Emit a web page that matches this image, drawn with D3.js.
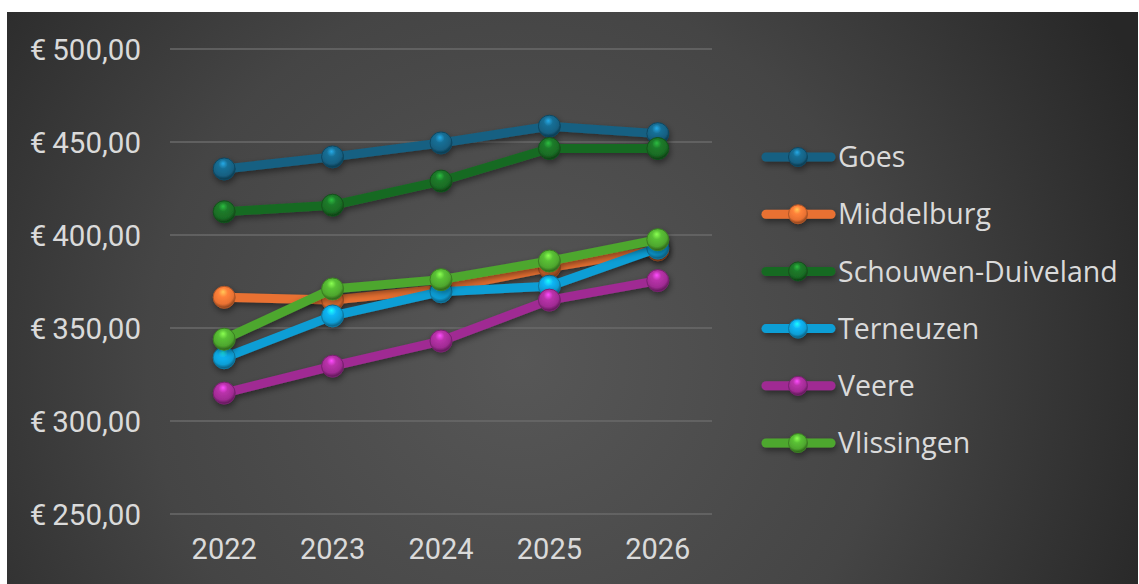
<!DOCTYPE html>
<html>
<head>
<meta charset="utf-8">
<script src="https://cdn.jsdelivr.net/npm/d3@7"></script>
<style>
  body { margin: 0; background: #ffffff; }
  svg { display: block; }
</style>
</head>
<body>
<div id="chart"></div>
<script>
// data
var years = ["2022", "2023", "2024", "2025", "2026"];
var seriesNames = ["Goes", "Middelburg", "Schouwen-Duiveland", "Terneuzen", "Veere", "Vlissingen"];
var goes = [435.5, 442, 449.5, 458.5, 454.5];
var middelburg = [366.5, 365, 371, 382.5, 392];
var schouwen = [412.5, 416, 429, 446.5, 446.5];
var terneuzen = [334, 356.5, 369.5, 372.5, 393];
var veere = [315, 329.5, 343, 365, 375.5];
var vlissingen = [344, 371, 376, 386, 397.5];
var colors = ["#156082", "#E97132", "#196B24", "#0F9ED5", "#A02B93", "#4EA72E"];
var yTicks = [250, 300, 350, 400, 450, 500];

var allValues = [goes, middelburg, schouwen, terneuzen, veere, vlissingen];

var W = 1139, H = 584;
var margin = {top: 49, left: 170, right: 427, bottom: 70};

var svg = d3.select("#chart").append("svg")
    .attr("width", W).attr("height", H);

var defs = svg.append("defs");

// background gradient
var bg = defs.append("radialGradient").attr("id", "bg")
    .attr("gradientUnits", "userSpaceOnUse")
    .attr("cx", 520).attr("cy", 360).attr("r", 680);
bg.append("stop").attr("offset", "0%").attr("stop-color", "#575757");
bg.append("stop").attr("offset", "55%").attr("stop-color", "#454545");
bg.append("stop").attr("offset", "100%").attr("stop-color", "#272727");

// soft shadow for lines and markers
var sh = defs.append("filter").attr("id", "shadow")
    .attr("x", "-20%").attr("y", "-20%").attr("width", "140%").attr("height", "160%");
sh.append("feDropShadow").attr("dx", 1).attr("dy", 3).attr("stdDeviation", 3)
    .attr("flood-color", "#000").attr("flood-opacity", 0.45);

// glossy ball gradients
colors.forEach(function(c, i) {
  var g = defs.append("radialGradient").attr("id", "ball" + i)
      .attr("cx", "45%").attr("cy", "35%").attr("r", "60%").attr("fx", "45%").attr("fy", "25%");
  g.append("stop").attr("offset", "0%").attr("stop-color", d3.color(c).brighter(1.6));
  g.append("stop").attr("offset", "35%").attr("stop-color", d3.color(c).brighter(0.4));
  g.append("stop").attr("offset", "80%").attr("stop-color", c);
  g.append("stop").attr("offset", "100%").attr("stop-color", d3.color(c).darker(1.2));
});

svg.append("rect").attr("x", 7).attr("y", 12).attr("width", W - 8).attr("height", H - 12)
    .attr("fill", "url(#bg)");

var x = d3.scaleBand().domain(years).range([margin.left, W - margin.right]);
var y = d3.scaleLinear().domain([250, 500]).range([514, 49]);

// gridlines
svg.append("g").selectAll("line").data(yTicks).enter().append("line")
    .attr("x1", margin.left).attr("x2", W - margin.right)
    .attr("y1", function(d) { return y(d); }).attr("y2", function(d) { return y(d); })
    .attr("stroke", "#6a6a6a").attr("stroke-width", 1.5);

var fmt = function(d) { return "€\u2009" + d3.format(".2f")(d).replace(".", ","); };

// y axis
var yAxis = svg.append("g").attr("transform", "translate(141,0)")
    .call(d3.axisLeft(y).tickValues(yTicks).tickSize(0).tickPadding(0).tickFormat(fmt));
yAxis.select(".domain").remove();
yAxis.selectAll("text").attr("fill", "#dadada").attr("dy", "0.34em")
    .style("font-family", "Roboto, sans-serif").style("font-size", "29.5px");

// x axis
var xAxis = svg.append("g").attr("transform", "translate(0,538)")
    .call(d3.axisBottom(x).tickSize(0).tickPadding(0));
xAxis.select(".domain").remove();
xAxis.selectAll("text").attr("fill", "#dadada").attr("dy", "0.71em")
    .style("font-family", "Roboto, sans-serif").style("font-size", "29px");

var line = d3.line()
    .x(function(d, i) { return x(years[i]) + x.bandwidth() / 2; })
    .y(function(d) { return y(d); });

var plot = svg.append("g");
allValues.forEach(function(vals, s) {
  var g = plot.append("g").attr("filter", "url(#shadow)");
  g.append("path").datum(vals).attr("d", line)
      .attr("fill", "none").attr("stroke", colors[s]).attr("stroke-width", 9)
      .attr("stroke-linejoin", "round");
  g.selectAll("circle").data(vals).enter().append("circle")
      .attr("cx", function(d, i) { return x(years[i]) + x.bandwidth() / 2; })
      .attr("cy", function(d) { return y(d); })
      .attr("r", 11)
      .attr("fill", "url(#ball" + s + ")")
      .attr("stroke", d3.color(colors[s]).darker(0.8)).attr("stroke-width", 1);
});

// legend
var legend = svg.append("g");
var ly = d3.scalePoint().domain(seriesNames).range([157, 443]);
seriesNames.forEach(function(name, s) {
  var g = legend.append("g").attr("transform", "translate(0," + ly(name) + ")")
      .attr("filter", "url(#shadow)");
  g.append("line").attr("x1", 766).attr("x2", 831).attr("y1", 0).attr("y2", 0)
      .attr("stroke", colors[s]).attr("stroke-width", 9).attr("stroke-linecap", "round");
  g.append("circle").attr("cx", 798).attr("cy", 0).attr("r", 9.5)
      .attr("fill", "url(#ball" + s + ")")
      .attr("stroke", d3.color(colors[s]).darker(0.8)).attr("stroke-width", 1);
  legend.append("text").attr("x", 838).attr("y", ly(name)).attr("dy", "0.36em")
      .attr("fill", "#dadada")
      .style("font-family", "'Open Sans', sans-serif").style("font-size", "28.5px")
      .text(name);
});
</script>
</body>
</html>
